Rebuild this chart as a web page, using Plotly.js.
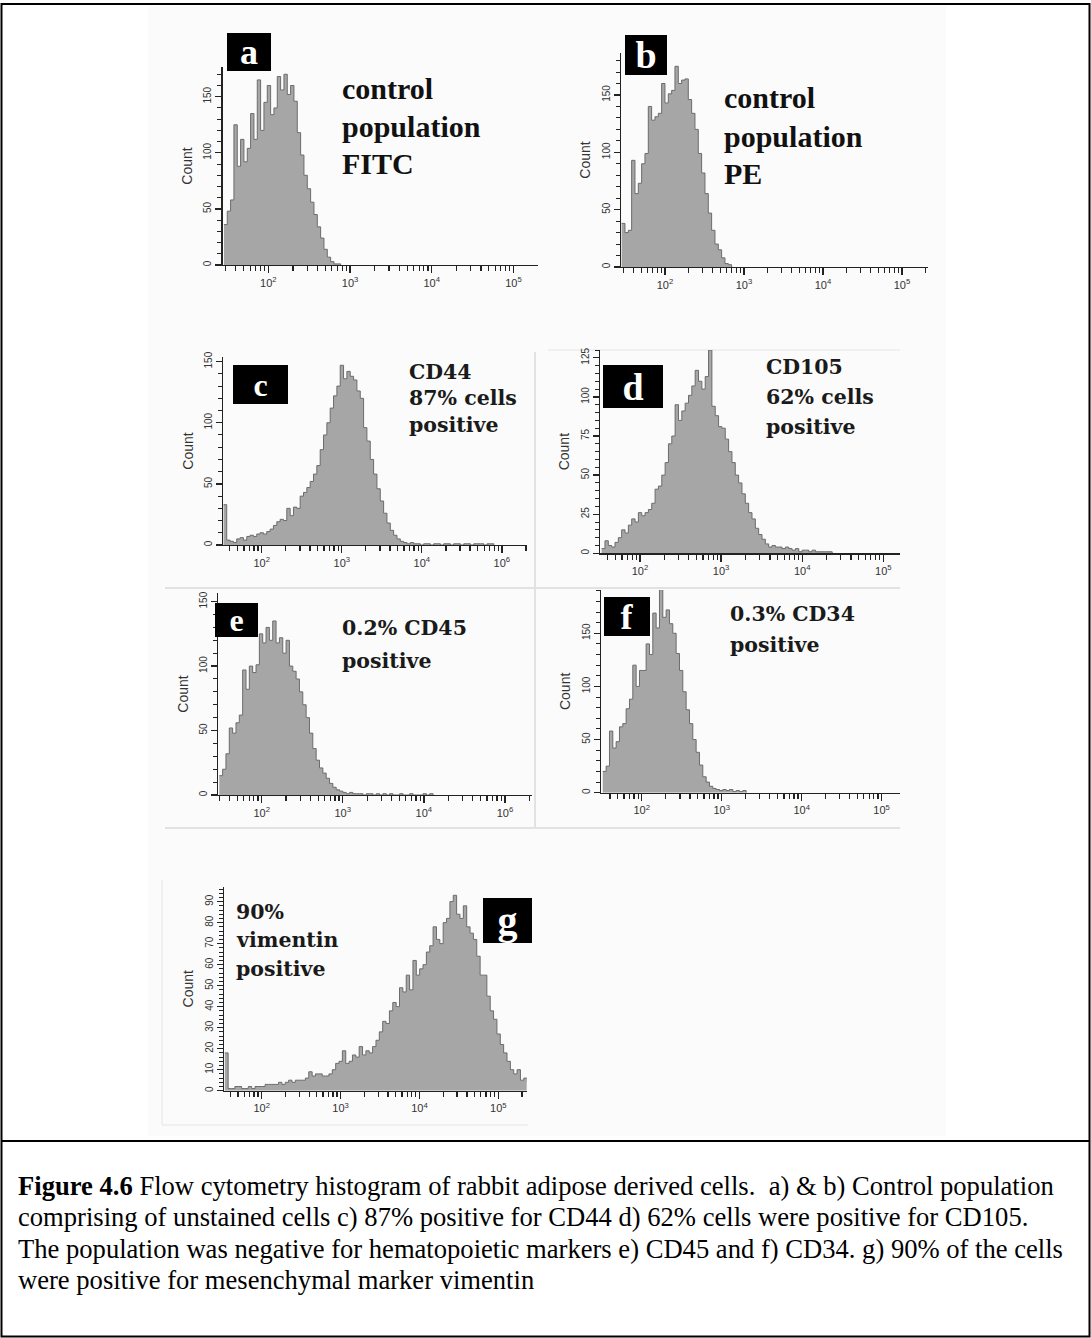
<!DOCTYPE html>
<html><head><meta charset="utf-8">
<script src="https://cdn.plot.ly/plotly-3.0.1.min.js"></script>
<style>html,body{margin:0;padding:0;background:#fff;}#chart{width:1091px;height:1338px;}</style>
</head><body><div id="chart"></div>
<script>
// ---------- DATA ----------
// each histogram: first channel position (log10 of intensity), channel width (log10), counts per channel
const startA = 1.457, stepA = 0.0408;
const countsA = [36,48,58,125,88,112,92,104,135,112,165,120,145,160,134,140,168,156,170,152,160,146,118,98,80,68,56,45,34,24,14,7,3,1,1,0];
const startB = 1.451, stepB = 0.0422;
const countsB = [38,30,32,93,64,73,90,99,140,128,131,134,160,143,151,154,175,160,163,164,146,134,120,99,82,64,47,32,20,15,8,3,2,0];
const startC = 1.521, stepC = 0.0417;
const countsC = [33,4,3,2,5,6,4,7,8,7,9,10,9,11,13,16,19,21,20,30,24,31,30,40,43,47,52,58,65,78,90,100,112,122,130,147,136,142,138,135,126,120,96,85,70,58,46,36,26,18,12,8,5,3,2,1,2,1,1,0,1,1,0,1,1,0,1,1,0,1,1,0,1,1,0,1,1,1,0,1,1,0];
const startD = 1.527, stepD = 0.0412;
const countsD = [3,8,5,4,7,10,15,13,18,22,20,26,24,26,28,32,41,43,50,58,70,75,95,85,91,96,101,107,117,110,105,113,130,94,88,81,80,73,65,58,50,45,38,32,26,22,16,12,9,6,4,5,4,4,3,4,3,2,3,1,2,2,1,2,1,1,1,1,1,0];
const startE = 1.477, stepE = 0.0412;
const countsE = [15,20,32,52,48,56,62,97,82,100,95,101,125,118,130,120,135,118,122,110,120,100,96,90,80,70,60,48,36,27,21,17,13,9,6,4,3,2,1,2,1,1,1,0,1,1,0,1,0,1,0,1,0,0,1,0,0,1,0,0,0,1,0,1,0];
const startF = 1.5125, stepF = 0.0417;
const countsF = [20,25,58,42,48,62,65,79,88,120,100,115,115,140,130,169,155,191,165,172,159,150,131,115,95,78,65,50,38,26,15,10,6,4,3,2,3,2,3,1,2,1,2,0];
const startG = 1.532, stepG = 0.0426;
const countsG = [18,1,1,2,2,1,1,2,1,2,2,2,3,3,3,3,4,3,4,5,4,5,5,5,6,9,7,8,8,7,7,8,10,13,14,19,13,14,17,16,21,17,19,18,21,24,28,33,32,38,42,40,49,47,55,48,62,55,58,60,66,69,78,72,70,80,82,90,93,84,82,88,78,75,72,64,55,55,45,38,34,27,22,18,14,10,8,10,5,6,4,3];

// tick labels
const xTickVals = [100, 1000, 10000, 100000];
const xTickTextStd = ['10<sup>2</sup>','10<sup>3</sup>','10<sup>4</sup>','10<sup>5</sup>'];
const xTickTextAlt = ['10<sup>2</sup>','10<sup>3</sup>','10<sup>4</sup>','10<sup>6</sup>'];
const panelLetters = ['a','b','c','d','e','f','g'];
const panelTextA = ['control','population','FITC'];
const panelTextB = ['control','population','PE'];
const panelTextC = ['CD44','87% cells','positive'];
const panelTextD = ['CD105','62% cells','positive'];
const panelTextE = ['0.2% CD45','positive'];
const panelTextF = ['0.3% CD34','positive'];
const panelTextG = ['90%','vimentin','positive'];
const captionLines = [
  '<b>Figure 4.6</b> Flow cytometry histogram of rabbit adipose derived cells.  a) &amp; b) Control population',
  'comprising of unstained cells c) 87% positive for CD44 d) 62% cells were positive for CD105.',
  'The population was negative for hematopoietic markers e) CD45 and f) CD34. g) 90% of the cells',
  'were positive for mesenchymal marker vimentin'
];

// ---------- LAYOUT GEOMETRY ----------
const W = 1091, H = 1338;
const px = v => v / W, py = v => 1 - v / H;
const panels = [
  {start:startA, step:stepA, counts:countsA, x:[222.7,538], y:[67,265], xr:[1.442,5.30], yr:[0,176.5], dt:50, mdt:10, tt:xTickTextStd},
  {start:startB, step:stepB, counts:countsB, x:[621,928], y:[53,267], xr:[1.443,5.33], yr:[0,186.6], dt:50, mdt:10, tt:xTickTextStd},
  {start:startC, step:stepC, counts:countsC, x:[223.3,526.7], y:[357,545], xr:[1.52,5.31], yr:[0,153.8], dt:50, mdt:10, tt:xTickTextAlt},
  {start:startD, step:stepD, counts:countsD, x:[600,900], y:[350,553.3], xr:[1.507,5.206], yr:[0,130], dt:25, mdt:5, tt:xTickTextStd},
  {start:startE, step:stepE, counts:countsE, x:[218.3,531.7], y:[593,795], xr:[1.465,5.33], yr:[0,156.7], dt:50, mdt:10, tt:xTickTextAlt},
  {start:startF, step:stepF, counts:countsF, x:[601,900], y:[590,792.7], xr:[1.49,5.23], yr:[0,190.7], dt:50, mdt:10, tt:xTickTextStd},
  {start:startG, step:stepG, counts:countsG, x:[224,526.7], y:[886.7,1090.7], xr:[1.522,5.36], yr:[0,97.1], dt:10, mdt:2, tt:xTickTextStd}
];

const minorVals = [];
for (let k = 1; k <= 5; k++) for (let m = 2; m <= 9; m++) minorVals.push(m * Math.pow(10, k));

const data = [];
const layout = {
  width: W, height: H, margin:{l:0,r:0,t:0,b:0},
  paper_bgcolor:'#ffffff', plot_bgcolor:'rgba(0,0,0,0)', showlegend:false,
  shapes:[], annotations:[]
};

panels.forEach((p, i) => {
  const n = i === 0 ? '' : String(i + 1);
  const xs = p.counts.map((_, j) => Math.pow(10, p.start + j * p.step));
  data.push({
    type:'scatter', mode:'lines', x: xs, y: p.counts,
    xaxis:'x' + n, yaxis:'y' + n,
    line:{shape:'hv', color:'#6c6c6c', width:1},
    fill:'tozeroy', fillcolor:'#a6a6a6', hoverinfo:'skip'
  });
  layout['xaxis' + n] = {
    type:'log', range:p.xr, domain:[px(p.x[0]), px(p.x[1])], anchor:'y' + n,
    showline:true, linecolor:'#222', linewidth:1.3, showgrid:false, zeroline:false,
    ticks:'outside', ticklen:7, tickwidth:1.3, tickcolor:'#222',
    tickmode:'array', tickvals:xTickVals, ticktext:p.tt,
    tickfont:{family:'Liberation Sans, Arial, sans-serif', size:11, color:'#333'},
    minor:{tickmode:'array', tickvals:minorVals, ticks:'outside', ticklen:5, tickwidth:1.2, tickcolor:'#222', showgrid:false},
    fixedrange:true, automargin:false
  };
  layout['yaxis' + n] = {
    range:p.yr, domain:[py(p.y[1]), py(p.y[0])], anchor:'x' + n,
    showline:true, linecolor:'#222', linewidth:1.3, showgrid:false, zeroline:false,
    ticks:'outside', ticklen:6, tickwidth:1.3, tickcolor:'#222',
    tick0:0, dtick:p.dt, tickangle:-90,
    tickfont:{family:'Liberation Sans, Arial, sans-serif', size:10, color:'#333'},
    minor:{dtick:p.mdt, ticks:'outside', ticklen:4, tickwidth:1, tickcolor:'#222', showgrid:false},
    title:{text:'Count', font:{family:'Liberation Sans, Arial, sans-serif', size:14, color:'#333'}, standoff:6},
    fixedrange:true, automargin:false
  };
});

// decorative background and frames
const S = layout.shapes;
S.push({type:'rect', xref:'paper', yref:'paper', x0:px(148), x1:px(946), y0:py(1136), y1:py(6), fillcolor:'#fbfbfb', line:{width:0}, layer:'below'});
const frameLine = {color:'#e2e2e2', width:2};
S.push({type:'line', xref:'paper', yref:'paper', x0:px(535), x1:px(535), y0:py(352), y1:py(828), line:frameLine, layer:'below'});
S.push({type:'line', xref:'paper', yref:'paper', x0:px(165), x1:px(900), y0:py(588), y1:py(588), line:frameLine, layer:'below'});
S.push({type:'line', xref:'paper', yref:'paper', x0:px(165), x1:px(900), y0:py(828), y1:py(828), line:frameLine, layer:'below'});
S.push({type:'line', xref:'paper', yref:'paper', x0:px(548), x1:px(900), y0:py(350), y1:py(350), line:{color:'#ececec', width:1.5}, layer:'below'});
S.push({type:'line', xref:'paper', yref:'paper', x0:px(162), x1:px(162), y0:py(880), y1:py(1125), line:{color:'#ececec', width:1.5}, layer:'below'});
S.push({type:'line', xref:'paper', yref:'paper', x0:px(162), x1:px(528), y0:py(1125), y1:py(1125), line:{color:'#ececec', width:1.5}, layer:'below'});
// outer border and caption separator
S.push({type:'rect', xref:'paper', yref:'paper', x0:px(1.5), x1:px(1089.5), y0:py(1336.5), y1:py(4), line:{color:'#000', width:2}, fillcolor:'rgba(0,0,0,0)'});
S.push({type:'line', xref:'paper', yref:'paper', x0:px(1), x1:px(1090), y0:py(1141), y1:py(1141), line:{color:'#000', width:2}});

// letter boxes
const A = layout.annotations;
const boxes = [
  {x:[227,271], y:[33,71], fs:36},
  {x:[625,667], y:[35,75], fs:38},
  {x:[233,288], y:[365,404], fs:32},
  {x:[603,663], y:[365,408], fs:38},
  {x:[215,258], y:[603,637], fs:32},
  {x:[604,650], y:[597,636], fs:36},
  {x:[483,532], y:[898,943], fs:40}
];
boxes.forEach((b, i) => {
  A.push({xref:'paper', yref:'paper', x:px((b.x[0]+b.x[1])/2), y:py((b.y[0]+b.y[1])/2),
    xanchor:'center', yanchor:'middle', showarrow:false,
    text:'<b>' + panelLetters[i] + '</b>', width:b.x[1]-b.x[0], height:b.y[1]-b.y[0],
    bgcolor:'#000', borderpad:0, borderwidth:0,
    font:{family:'Liberation Serif, Times New Roman, serif', size:b.fs, color:'#fff'}});
});

// panel descriptions
function addLines(lines, x, ys, font) {
  lines.forEach((t, k) => A.push({xref:'paper', yref:'paper', x:px(x), y:py(ys[k]), xanchor:'left', yanchor:'middle',
    showarrow:false, text:'<b>' + t + '</b>', font:font}));
}
const bigSerif = {family:'Liberation Serif, Times New Roman, serif', size:30, color:'#111'};
const schoolSerif = {family:'DejaVu Serif, serif', size:20.5, color:'#1a1a1a'};
addLines(panelTextA, 340, [88,127,164], bigSerif);
addLines(panelTextB, 722, [98,136,174], bigSerif);
addLines(panelTextC, 407, [372,398,425], schoolSerif);
addLines(panelTextD, 764, [367,397,427], schoolSerif);
addLines(panelTextE, 340, [628,661], schoolSerif);
addLines(panelTextF, 728, [614,645], schoolSerif);
addLines(panelTextG, 234, [912,940,969], schoolSerif);

// caption
const capYs = [1186, 1217, 1249, 1280];
captionLines.forEach((t, k) => A.push({xref:'paper', yref:'paper', x:px(16), y:py(capYs[k]), xanchor:'left', yanchor:'middle',
  showarrow:false, text:t, font:{family:'Liberation Serif, Times New Roman, serif', size:26.6, color:'#000'}}));

Plotly.newPlot('chart', data, layout, {staticPlot:true, displayModeBar:false});
</script>
</body></html>
